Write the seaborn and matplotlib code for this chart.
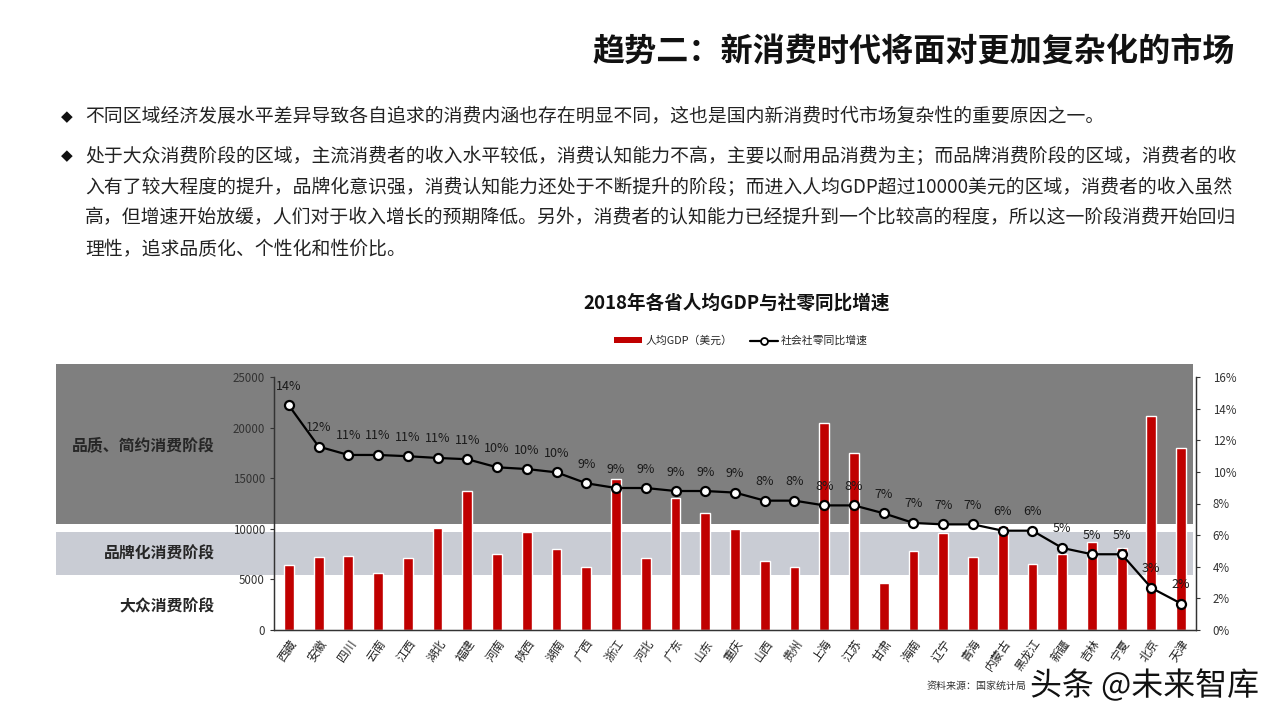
import numpy as np
import pandas as pd
import seaborn as sns
import matplotlib.pyplot as plt
from matplotlib.patches import Rectangle
from matplotlib.lines import Line2D
import matplotlib.patheffects as pe

provinces = ['西藏', '安徽', '四川', '云南', '江西', '湖北', '福建', '河南', '陕西', '湖南',
             '广西', '浙江', '河北', '广东', '山东', '重庆', '山西', '贵州', '上海', '江苏',
             '甘肃', '海南', '辽宁', '青海', '内蒙古', '黑龙江', '新疆', '吉林', '宁夏', '北京', '天津']
gdp_usd = [6450, 7250, 7300, 5600, 7150, 10050, 13770, 7500, 9720, 7970,
           6190, 14890, 7150, 13070, 11530, 9950, 6820, 6190, 20420, 17460,
           4680, 7840, 9550, 7180, 10280, 6490, 7500, 8730, 8140, 21150, 18010]
retail_growth = [14.2, 11.6, 11.07, 11.07, 10.99, 10.88, 10.8, 10.29, 10.18, 9.97,
                 9.28, 8.98, 8.98, 8.79, 8.79, 8.69, 8.18, 8.18, 7.88, 7.88,
                 7.38, 6.77, 6.68, 6.68, 6.28, 6.28, 5.19, 4.79, 4.79, 2.66, 1.67]
stage_labels = ['品质、简约消费阶段', '品牌化消费阶段', '大众消费阶段']

header = '趋势二：新消费时代将面对更加复杂化的市场'
bullet_lines = [
    '不同区域经济发展水平差异导致各自追求的消费内涵也存在明显不同，这也是国内新消费时代市场复杂性的重要原因之一。',
    '处于大众消费阶段的区域，主流消费者的收入水平较低，消费认知能力不高，主要以耐用品消费为主；而品牌消费阶段的区域，消费者的收',
    '入有了较大程度的提升，品牌化意识强，消费认知能力还处于不断提升的阶段；而进入人均GDP超过10000美元的区域，消费者的收入虽然',
    '高，但增速开始放缓，人们对于收入增长的预期降低。另外，消费者的认知能力已经提升到一个比较高的程度，所以这一阶段消费开始回归',
    '理性，追求品质化、个性化和性价比。',
]
chart_title = '2018年各省人均GDP与社零同比增速'

df = pd.DataFrame({'省份': provinces, 'gdp': gdp_usd, 'growth': retail_growth})

sns.set_style('white')
plt.rcParams['font.family'] = ['Noto Sans CJK SC', 'DejaVu Sans']

RED = '#c00000'
fig = plt.figure(figsize=(12.8, 7.2), dpi=100)
W, H = 1280, 720

def fx(px):
    return px / W

def fy(py):
    return 1 - py / H

# ---- header and bullet text ----
fig.text(fx(1235), fy(52), header, ha='right', va='center', fontsize=23.1,
         fontweight='bold', color='#111111')
line_y = [117, 156, 187, 218, 250]
for i, (txt, y) in enumerate(zip(bullet_lines, line_y)):
    if i in (0, 1):
        fig.text(fx(67), fy(y), '◆', ha='center', va='center', fontsize=11,
                 color='#111111', family=['DejaVu Sans'])
    fig.text(fx(85), fy(y), txt, ha='left', va='center', fontsize=13.55, color='#222222')

fig.text(fx(737), fy(303), chart_title, ha='center', va='center', fontsize=13.4,
         fontweight='bold', color='#111111')

# ---- stage background bands ----
fig.add_artist(Rectangle((fx(56), fy(524)), fx(1193) - fx(56), fy(364) - fy(524),
                         transform=fig.transFigure, facecolor='#7f7f7f',
                         edgecolor='none', zorder=-2))
fig.add_artist(Rectangle((fx(56), fy(575)), fx(1193) - fx(56), fy(532) - fy(575),
                         transform=fig.transFigure, facecolor='#c9ccd4',
                         edgecolor='none', zorder=-2))
for lab, y in zip(stage_labels, [445, 554, 606]):
    fig.text(fx(215), fy(y), lab, ha='right', va='center', fontsize=11.4,
             fontweight='bold', color='#262626')

# ---- chart ----
ax = fig.add_axes([fx(274), fy(630), fx(1196) - fx(274), fy(377) - fy(630)])
ax.set_facecolor('none')
sns.barplot(data=df, x='省份', y='gdp', color=RED, width=0.33, saturation=1, ax=ax)
ax.set_ylim(0, 25000)
ax.set_xlim(-0.5, len(provinces) - 0.5)
ax.set_yticks(np.arange(0, 25001, 5000))
ax.set_xlabel('')
ax.set_ylabel('')
ax.tick_params(axis='y', labelsize=8.3, colors='#333333', length=3, width=0.8, direction='out')
ax.tick_params(axis='x', labelsize=8.5, colors='#222222', length=0, pad=5)
for lab in ax.get_xticklabels():
    lab.set_rotation(55)
    lab.set_ha('right')
    lab.set_rotation_mode('anchor')

ax2 = ax.twinx()
ax2.set_facecolor('none')
sns.lineplot(x=np.arange(len(provinces)), y=df['growth'], ax=ax2, color='black',
             linewidth=1.6, marker='o', markersize=6.5, markerfacecolor='white',
             markeredgecolor='black', markeredgewidth=1.6)
ax2.set_ylim(0, 16)
ax2.set_yticks(np.arange(0, 17, 2))
ax2.set_yticklabels([f'{v}%' for v in range(0, 17, 2)])
ax2.set_ylabel('')
ax2.tick_params(axis='y', labelsize=8.3, colors='#333333', length=3, width=0.8,
                direction='out', pad=9)
for i, v in enumerate(retail_growth):
    ax2.annotate(f'{v:.0f}%', (i, v), xytext=(0, 9), textcoords='offset points',
                 ha='center', va='bottom', fontsize=9, color='#1a1a1a')

for a in (ax, ax2):
    a.spines['top'].set_visible(False)
    for s in ('left', 'right', 'bottom'):
        a.spines[s].set_color('#333333')
        a.spines[s].set_linewidth(0.9)

# ---- legend ----
handles = [Rectangle((0, 0), 1, 1, facecolor=RED, edgecolor='none'),
           Line2D([0], [0], color='black', linewidth=1.6, marker='o', markersize=5,
                  markerfacecolor='white', markeredgecolor='black', markeredgewidth=1.3)]
fig.legend(handles, ['人均GDP（美元）', '社会社零同比增速'], loc='center',
           bbox_to_anchor=(fx(741), fy(341)), ncol=2, frameon=False, fontsize=7.8,
           handlelength=2.6, handleheight=0.5, columnspacing=1.6, handletextpad=0.3)

# ---- source and watermark ----
fig.text(fx(927), fy(686), '资料来源：国家统计局', ha='left', va='center', fontsize=7.2,
         color='#333333')
fig.text(fx(1030), fy(686), '头条 @未来智库', ha='left', va='center', fontsize=23,
         color='#111111',
         path_effects=[pe.withStroke(linewidth=3, foreground='white')])

fig.savefig('out.png', dpi=100)
